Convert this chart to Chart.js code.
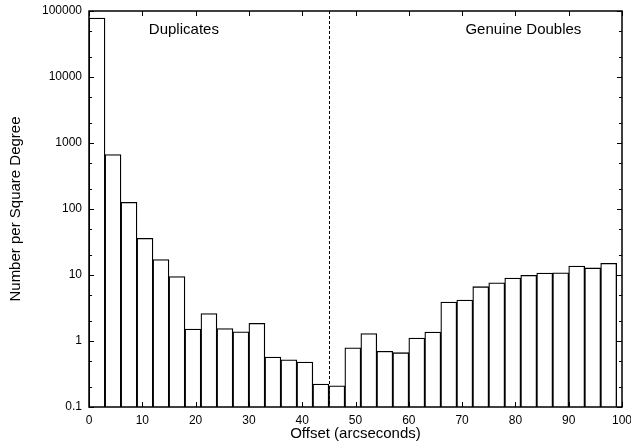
<!DOCTYPE html>
<html>
<head>
<meta charset="utf-8">
<script src="https://cdn.jsdelivr.net/npm/chart.js@4/dist/chart.umd.min.js"></script>
<style>
  html, body { margin: 0; padding: 0; background: #fff; }
  #wrap { width: 631px; height: 443px; position: relative; }
</style>
</head>
<body>
<div id="wrap"><canvas id="hist_chart"></canvas></div>
<script>
// bin lower edges (arcsec), each bin 3" wide
const bin_low = [0, 3, 6, 9, 12, 15, 18, 21, 24, 27, 30, 33, 36, 39, 42, 45,
    48, 51, 54, 57, 60, 63, 66, 69, 72, 75, 78, 81, 84, 87, 90, 93, 96]
const bin_width = 3
const density = [78400, 670, 126, 36, 17.2, 9.5, 1.52, 2.6, 1.54, 1.38, 1.85, 0.57,
    0.52, 0.48, 0.223, 0.21, 0.79, 1.3, 0.7, 0.665, 1.11, 1.37, 3.9, 4.17,
    6.65, 7.6, 9.0, 9.9, 10.7, 10.8, 13.7, 12.8, 15.0]
const x_ticks = [0, 10, 20, 30, 40, 50, 60, 70, 80, 90, 100]
const y_ticks = [0.1, 1, 10, 100, 1000, 10000, 100000]
const divider = 45
const notes = [
    { text: 'Duplicates', x: 17.8 },
    { text: 'Genuine Doubles', x: 81.5 }
]

const font_name = '"Liberation Sans", Arial, sans-serif'

const points = bin_low.map((lo, i) => ({ x: lo + bin_width / 2, y: density[i] }))

// inward tick marks, frame, divider line, and annotations
const frame_plugin = {
    id: 'frame_plugin',
    afterDatasetsDraw(chart) {
        const { ctx, chartArea: a, scales: { x, y } } = chart
        ctx.save()
        ctx.strokeStyle = '#000'
        ctx.lineWidth = 1

        // dashed divider
        const xd = Math.round(x.getPixelForValue(divider)) + 0.5
        ctx.setLineDash([3, 2])
        ctx.beginPath()
        ctx.moveTo(xd, a.top)
        ctx.lineTo(xd, a.bottom)
        ctx.stroke()
        ctx.setLineDash([])

        // x ticks top and bottom
        ctx.beginPath()
        x_ticks.forEach(v => {
            const px = Math.round(x.getPixelForValue(v)) + 0.5
            ctx.moveTo(px, a.bottom); ctx.lineTo(px, a.bottom - 5)
            ctx.moveTo(px, a.top); ctx.lineTo(px, a.top + 5)
        })
        // y ticks, major decades and minor 2 and 5
        y_ticks.forEach((v, i) => {
            const py = Math.round(y.getPixelForValue(v)) + 0.5
            ctx.moveTo(a.left, py); ctx.lineTo(a.left + 5, py)
            ctx.moveTo(a.right, py); ctx.lineTo(a.right - 5, py)
            if (i < y_ticks.length - 1) {
                [2, 5].forEach(m => {
                    const pm = Math.round(y.getPixelForValue(v * m)) + 0.5
                    ctx.moveTo(a.left, pm); ctx.lineTo(a.left + 3, pm)
                    ctx.moveTo(a.right, pm); ctx.lineTo(a.right - 3, pm)
                })
            }
        })
        ctx.stroke()

        // frame
        ctx.lineWidth = 1.5
        ctx.strokeRect(a.left, a.top, a.right - a.left, a.bottom - a.top)

        // notes
        ctx.fillStyle = '#000'
        ctx.font = '15px ' + font_name
        ctx.textAlign = 'center'
        ctx.textBaseline = 'middle'
        notes.forEach(n => {
            ctx.fillText(n.text, x.getPixelForValue(n.x), a.top + 19)
        })
        ctx.restore()
    }
}

new Chart(document.querySelector('#hist_chart'), {
    type: 'bar',
    data: {
        datasets: [{
            data: points,
            backgroundColor: '#fff',
            borderColor: '#000',
            borderWidth: 1.3,
            borderSkipped: 'start',
            barPercentage: 1,
            categoryPercentage: 1
        }]
    },
    options: {
        responsive: true,
        maintainAspectRatio: false,
        animation: false,
        devicePixelRatio: 1,
        layout: { padding: { top: 11, right: 9, left: 0, bottom: 0 } },
        plugins: {
            legend: { display: false },
            tooltip: { enabled: false }
        },
        scales: {
            x: {
                type: 'linear',
                min: 0,
                max: 100,
                offset: false,
                afterBuildTicks: s => { s.ticks = x_ticks.map(v => ({ value: v })) },
                ticks: {
                    color: '#000',
                    font: { family: font_name, size: 12 },
                    padding: 6,
                    maxRotation: 0
                },
                grid: { display: false, drawTicks: false },
                border: { display: false },
                title: {
                    display: true,
                    text: 'Offset (arcseconds)',
                    color: '#000',
                    font: { family: font_name, size: 15 },
                    padding: { top: -8, bottom: 0 }
                },
                afterFit: s => { s.height = 36; s.paddingLeft = 0; s.paddingRight = 0 }
            },
            y: {
                type: 'logarithmic',
                min: 0.1,
                max: 100000,
                afterBuildTicks: s => { s.ticks = y_ticks.map(v => ({ value: v })) },
                ticks: {
                    color: '#000',
                    font: { family: font_name, size: 12 },
                    padding: 7,
                    callback: v => String(v)
                },
                grid: { display: false, drawTicks: false },
                border: { display: false },
                title: {
                    display: true,
                    text: 'Number per Square Degree',
                    color: '#000',
                    font: { family: font_name, size: 15 },
                    padding: { top: 7, bottom: 0 }
                },
                afterFit: s => { s.width = 89; s.paddingTop = 0; s.paddingBottom = 0 }
            }
        }
    },
    plugins: [frame_plugin]
})
</script>
</body>
</html>
